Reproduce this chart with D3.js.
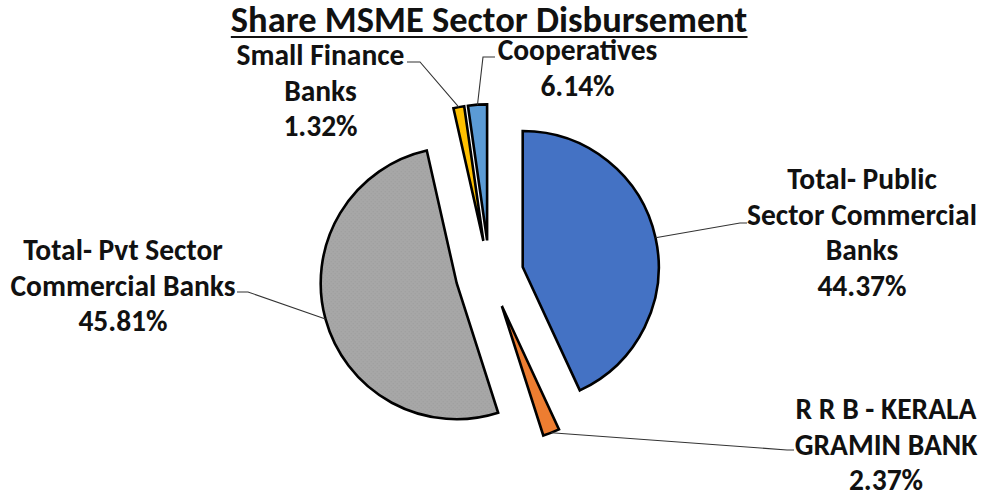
<!DOCTYPE html>
<html>
<head>
<meta charset="utf-8">
<script src="https://cdn.jsdelivr.net/npm/d3@7"></script>
<style>
  html, body { margin: 0; padding: 0; background: #fff; }
  svg text { font-family: Calibri, Carlito, Lato, sans-serif; font-weight: bold; fill: #111; }
</style>
</head>
<body>
<div id="chart"></div>
<script>
// Chart data
const categories = [
    "Total- Public Sector Commercial Banks",
    "R R B - KERALA GRAMIN BANK",
    "Total- Pvt Sector Commercial Banks",
    "Small Finance Banks",
    "Cooperatives"
];
// share of the circle as the slices are drawn in the picture
const sliceShares = [43.1, 1.97, 51.4, 1.28, 2.25];
// percentages printed in the labels
const labelShares = ["44.37%", "2.37%", "45.81%", "1.32%", "6.14%"];
const labelLines = [
    ["Total- Public", "Sector Commercial", "Banks"],
    ["R R B - KERALA", "GRAMIN BANK"],
    ["Total- Pvt Sector", "Commercial Banks"],
    ["Small Finance", "Banks"],
    ["Cooperatives"]
];
const colors = ["#4472C4", "#ED7D31", "#A5A5A5", "#FFC000", "#5B9BD5"];

const WIDTH = 984;
const HEIGHT = 498;
const CX = 489.5, CY = 274.3;
const RADIUS = 136;
const EXPLODE = 34;
const LINE_H = 35.5;

// label placement: text center x, first baseline, knee of leader, end of leader
const labelLayout = [
    { x: 862, y: 189, knee: [740, 223], end: [747, 223] },
    { x: 886, y: 419, knee: [787, 450], end: [794, 450] },
    { x: 123, y: 260, knee: [248, 292], end: [237, 292] },
    { x: 320.5, y: 65, knee: [420, 62], end: [407, 62] },
    { x: 577.5, y: 60, knee: [483, 57], end: [495, 57] }
];

const svg = d3.select("#chart")
    .append("svg")
    .attr("width", WIDTH)
    .attr("height", HEIGHT);

// speckled fill for the grey slice
const pat = svg.append("defs").append("pattern")
    .attr("id", "speckle")
    .attr("width", 4).attr("height", 4)
    .attr("patternUnits", "userSpaceOnUse");
pat.append("rect").attr("width", 4).attr("height", 4).attr("fill", "#A7A7A7");
pat.append("rect").attr("x", 0).attr("y", 0).attr("width", 1).attr("height", 1).attr("fill", "#9A9A9A");
pat.append("rect").attr("x", 2).attr("y", 2).attr("width", 1).attr("height", 1).attr("fill", "#9C9C9C");

// Title with underline
const title = svg.append("text")
    .attr("x", 489)
    .attr("y", 32)
    .attr("text-anchor", "middle")
    .style("font-size", "36.5px")
    .text("Share MSME Sector Disbursement");
const tb = title.node().getBBox();
svg.append("line")
    .attr("x1", tb.x).attr("x2", tb.x + tb.width)
    .attr("y1", 37).attr("y2", 37)
    .attr("stroke", "#111")
    .attr("stroke-width", 2.2);

// Pie
const pie = d3.pie().sort(null).value(d => d)(sliceShares);
const arc = d3.arc().innerRadius(0).outerRadius(RADIUS);
const rim = d3.arc().innerRadius(RADIUS).outerRadius(RADIUS);

const offset = d => {
    const a = (d.startAngle + d.endAngle) / 2;
    return [EXPLODE * Math.sin(a), -EXPLODE * Math.cos(a)];
};

const g = svg.append("g").attr("transform", `translate(${CX},${CY})`);

g.selectAll(".slice")
    .data(pie)
    .enter()
    .append("path")
    .attr("class", "slice")
    .attr("transform", d => `translate(${offset(d)[0]},${offset(d)[1]})`)
    .attr("d", arc)
    .attr("fill", (d, i) => i === 2 ? "url(#speckle)" : colors[i])
    .attr("stroke", "#000")
    .attr("stroke-width", 2.6)
    .attr("stroke-linejoin", "miter");

// Leader lines
svg.selectAll(".leader")
    .data(pie)
    .enter()
    .append("polyline")
    .attr("class", "leader")
    .attr("points", (d, i) => {
        const o = offset(d);
        const c = rim.centroid(d);
        const p = [CX + o[0] + c[0], CY + o[1] + c[1]];
        const L = labelLayout[i];
        return [p, L.knee, L.end].map(q => q.join(",")).join(" ");
    })
    .attr("fill", "none")
    .attr("stroke", "#333")
    .attr("stroke-width", 1.1);

// Labels
categories.forEach((cat, i) => {
    const L = labelLayout[i];
    const lines = labelLines[i].concat([labelShares[i]]);
    const t = svg.append("text")
        .attr("text-anchor", "middle")
        .style("font-size", "29.5px");
    lines.forEach((line, k) => {
        t.append("tspan")
            .attr("x", L.x)
            .attr("y", L.y + k * LINE_H)
            .text(line);
    });
});
</script>
</body>
</html>
